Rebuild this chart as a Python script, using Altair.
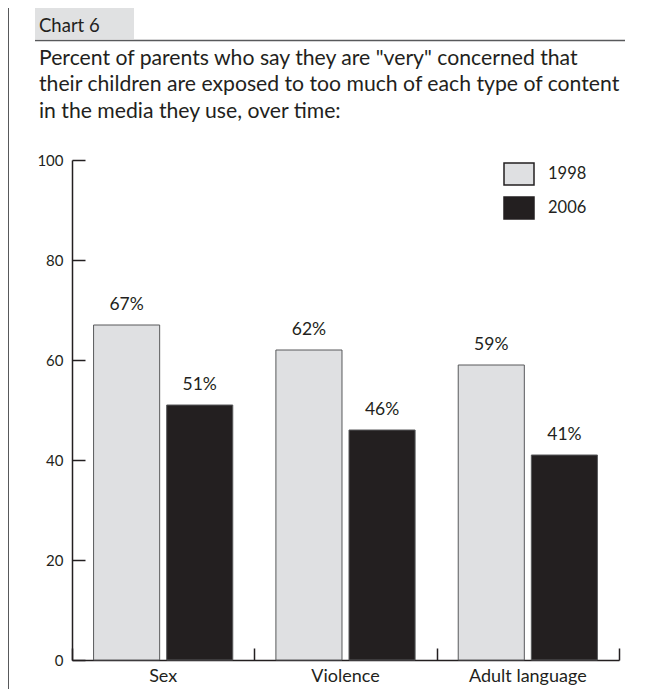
import altair as alt
import pandas as pd

# ---- data ----
categories = ["Sex", "Violence", "Adult language"]
years = ["1998", "2006"]
values_1998 = [67, 62, 59]
values_2006 = [51, 46, 41]
y_ticks = [0, 20, 40, 60, 80, 100]
header = "Chart 6"
title_lines = [
    'Percent of parents who say they are "very" concerned that',
    "their children are exposed to too much of each type of content",
    "in the media they use, over time:",
]
fill_colors = ["#dfe0e2", "#231f20"]

rows = []
for c, a, b in zip(categories, values_1998, values_2006):
    rows.append({"category": c, "year": years[0], "value": a, "label": f"{a}%"})
    rows.append({"category": c, "year": years[1], "value": b, "label": f"{b}%"})
df = pd.DataFrame(rows)

FONT = "Lato"
INK = "#231f20"
W, H = 547, 500

one = alt.InlineData(values=[{"k": 0}])

frame_left = alt.Chart(one).mark_rule(color="#58595b", strokeWidth=1).encode(
    x=alt.value(-63.5), y=alt.value(-152), y2=alt.value(529)
)
header_box = alt.Chart(one).mark_rect(color="#e0e1e2").encode(
    x=alt.value(-37), x2=alt.value(62), y=alt.value(-152), y2=alt.value(-121)
)
underline = alt.Chart(one).mark_rule(color="#58595b", strokeWidth=1.5).encode(
    x=alt.value(-37), x2=alt.value(553), y=alt.value(-119.5)
)
header_text = alt.Chart(one).mark_text(
    align="left", baseline="alphabetic", font=FONT, fontSize=18.5, color=INK
).encode(x=alt.value(-33), y=alt.value(-127.7), text=alt.value(header))
title_text = alt.Chart(one).mark_text(
    align="left", baseline="alphabetic", font=FONT, fontSize=21.2, lineHeight=26.9, color=INK
).encode(x=alt.value(-33), y=alt.value(-95.5), text=alt.value(title_lines))

bars = alt.Chart(df).mark_bar(stroke="#58595b", strokeWidth=1).encode(
    x=alt.X(
        "category:N", sort=categories, title=None,
        scale=alt.Scale(paddingInner=0, paddingOuter=0),
        axis=alt.Axis(orient="bottom", ticks=False, domain=True, domainColor=INK,
                      domainWidth=1.5, labelFont=FONT, labelFontSize=18,
                      labelColor=INK, labelPadding=7.5, labelAngle=0),
    ),
    xOffset=alt.XOffset("year:N", sort=years,
                        scale=alt.Scale(paddingInner=0.096, paddingOuter=0.295)),
    y=alt.Y(
        "value:Q", title=None, scale=alt.Scale(domain=[0, 100], nice=False),
        axis=alt.Axis(orient="left", values=y_ticks, ticks=False, domain=True,
                      domainColor=INK, domainWidth=1.5, grid=False, labelFont=FONT,
                      labelFontSize=15, labelColor=INK, labelPadding=9),
    ),
    fill=alt.Fill(
        "year:N", sort=years,
        scale=alt.Scale(domain=years, range=fill_colors),
        legend=alt.Legend(
            orient="none", legendX=431, legendY=-2, title=None,
            symbolType="M-1,-0.7333L1,-0.7333L1,0.7333L-1,0.7333Z",
            symbolSize=900, symbolStrokeColor=INK, symbolStrokeWidth=1.5,
            symbolOpacity=1, labelFont=FONT, labelFontSize=16.5, labelColor=INK,
            labelOffset=13, rowPadding=4, padding=0,
        ),
    ),
)

labels = alt.Chart(df).mark_text(
    dy=-15, baseline="alphabetic", fontSize=17.5, font=FONT, color=INK
).encode(
    x=alt.X(
        "category:N", sort=categories, title=None,
        axis=alt.Axis(orient="top", offset=-H, tickBand="extent", labels=False,
                      domain=False, ticks=True, tickSize=12, tickWidth=1.5,
                      tickColor=INK),
    ),
    xOffset=alt.XOffset("year:N", sort=years),
    y=alt.Y(
        "value:Q", title=None,
        axis=alt.Axis(orient="right", offset=-W, values=y_ticks, labels=False,
                      domain=False, ticks=True, tickSize=13, tickWidth=1.5,
                      tickColor=INK, grid=False),
    ),
    text="label:N",
)

chart = (
    alt.layer(frame_left, header_box, underline, header_text, title_text, bars, labels)
    .resolve_axis(x="independent", y="independent")
    .properties(
        width=W, height=H,
        padding={"left": 64, "top": 152, "right": 27, "bottom": 29},
        autosize=alt.AutoSizeParams(type="none"),
        background="white",
    )
    .configure_view(stroke=None)
)

chart.save("out.html", embed_options={"renderer": "svg", "actions": False})
